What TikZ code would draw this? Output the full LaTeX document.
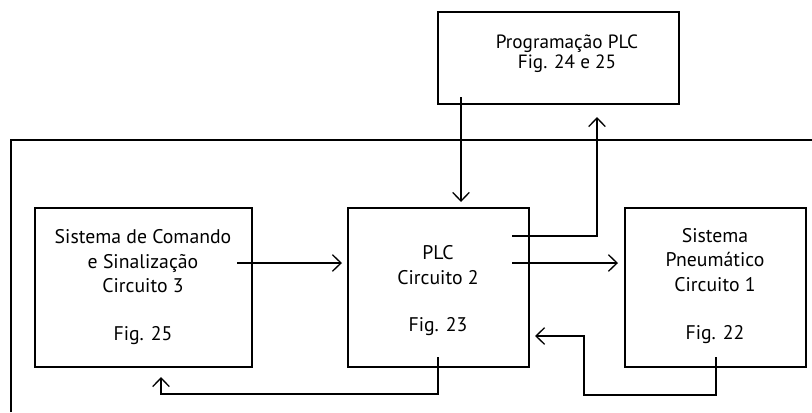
\documentclass[tikz,border=0pt]{standalone}
\usepackage{fontspec}
\setmainfont{PT Sans}
\usetikzlibrary{arrows.meta}
\tikzset{
  box/.style={draw, line width=1pt, inner sep=0pt},
  arr/.style={line width=1pt, -{Straight Barb[length=6.5pt,width=12.5pt,line width=1pt]}},
  conn/.style={line width=1pt},
  lbl/.style={inner sep=0pt, align=center, font=\fontsize{14.8}{18.4}\selectfont},
  tlbl/.style={inner sep=0pt, align=center, font=\fontsize{14.4}{14.8}\selectfont}
}
\begin{document}
\begin{tikzpicture}[x=0.75pt,y=-0.75pt]
\useasboundingbox (0,0) rectangle (812,412);
% outer frame (open to the right and bottom)
\coordinate (fbl) at (11,412);
\coordinate (ftl) at (11,140);
\coordinate (ftr) at (812,140);
\draw[conn] (fbl) -- (ftl) -- (ftr);
% boxes
\node[box, minimum width=217*0.75pt, minimum height=159*0.75pt] (L) at (143.5,287.5) {};
\node[box, minimum width=181*0.75pt, minimum height=159*0.75pt] (M) at (438.5,287.5) {};
\node[box, minimum width=181*0.75pt, minimum height=159*0.75pt] (R) at (715.5,287.5) {};
\node[box, minimum width=241*0.75pt, minimum height=92*0.75pt] (T) at (558.5,58) {};
% texts
\node[lbl] (Lt) at (143,261.5) {Sistema de Comando\\e Sinalização\\Circuito 3};
\node[lbl] (Lf) at (143,336) {Fig. 25};
\node[lbl] (Mt) at (438,265) {PLC\\Circuito 2};
\node[lbl] (Mf) at (438,327) {Fig. 23};
\node[lbl] (Rt) at (715,260) {Sistema\\Pneumático\\Circuito 1};
\node[lbl] (Rf) at (715,335) {Fig. 22};
\node[tlbl] (Tt) at (567,53.5) {Programação PLC\\Fig. 24 e 25};
% connectors
\coordinate (a1s) at (461,97);
\coordinate (a1e) at (461,202);
\draw[arr] (a1s) -- (a1e);
\coordinate (a2s) at (512,236);
\coordinate (a2e) at (597,117);
\draw[arr] (a2s) -| (a2e);
\coordinate (a3s) at (237,263);
\coordinate (a3e) at (342,263);
\draw[arr] (a3s) -- (a3e);
\coordinate (a4s) at (512,263);
\coordinate (a4e) at (618,263);
\draw[arr] (a4s) -- (a4e);
\coordinate (a5s) at (716,357);
\coordinate (a5b) at (716,395);
\coordinate (a5c) at (584,395);
\coordinate (a5d) at (584,336);
\coordinate (a5e) at (535,336);
\draw[arr] (a5s) -- (a5b) -- (a5c) -- (a5d) -- (a5e);
\coordinate (a6s) at (438,357);
\coordinate (a6b) at (438,394);
\coordinate (a6c) at (161,394);
\coordinate (a6e) at (161,377);
\draw[arr] (a6s) -- (a6b) -- (a6c) -- (a6e);
\end{tikzpicture}
\end{document}
